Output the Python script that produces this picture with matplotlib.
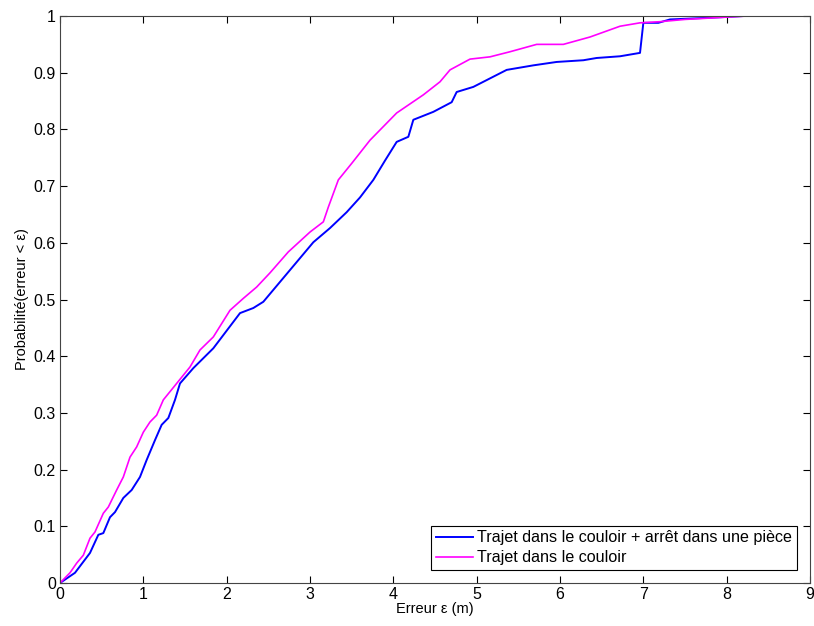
import matplotlib
matplotlib.use('Agg')
import matplotlib.pyplot as plt

# Trajet dans le couloir + arret dans une piece
x_arret = [0, 0.18, 0.36, 0.46, 0.52, 0.6, 0.66, 0.76, 0.86, 0.96, 1.04, 1.14, 1.22, 1.3,
           1.38, 1.44, 1.6, 1.84, 2.0, 2.16, 2.32, 2.44, 2.56, 2.68, 2.88, 3.04, 3.24,
           3.44, 3.6, 3.76, 3.9, 4.04, 4.18, 4.24, 4.48, 4.7, 4.76, 4.96, 5.08, 5.36,
           5.68, 5.96, 6.28, 6.44, 6.72, 6.96, 7.0, 7.18, 7.32, 7.64, 7.94, 8.2, 9.0]
p_arret = [0, 0.018, 0.053, 0.085, 0.088, 0.116, 0.125, 0.15, 0.164, 0.187, 0.217, 0.252,
           0.279, 0.291, 0.323, 0.352, 0.379, 0.414, 0.445, 0.476, 0.485, 0.496, 0.517,
           0.538, 0.573, 0.601, 0.626, 0.654, 0.68, 0.711, 0.745, 0.778, 0.787, 0.817,
           0.831, 0.848, 0.866, 0.875, 0.884, 0.905, 0.913, 0.919, 0.922, 0.926, 0.929,
           0.935, 0.988, 0.988, 0.994, 0.996, 0.998, 1.0, 1.0]

# Trajet dans le couloir
x_couloir = [0, 0.12, 0.2, 0.28, 0.36, 0.42, 0.52, 0.58, 0.68, 0.76, 0.84, 0.92, 1.0, 1.08,
             1.16, 1.24, 1.4, 1.56, 1.68, 1.84, 2.04, 2.2, 2.36, 2.52, 2.74, 3.0, 3.16,
             3.22, 3.34, 3.5, 3.72, 4.04, 4.36, 4.56, 4.68, 4.92, 5.16, 5.4, 5.72, 6.04,
             6.36, 6.72, 6.96, 7.2, 7.5, 8.24, 9.0]
p_couloir = [0, 0.018, 0.035, 0.049, 0.079, 0.09, 0.123, 0.134, 0.164, 0.187, 0.222, 0.24,
             0.266, 0.284, 0.296, 0.323, 0.352, 0.381, 0.411, 0.434, 0.481, 0.502, 0.522,
             0.547, 0.584, 0.619, 0.637, 0.663, 0.711, 0.74, 0.781, 0.829, 0.861, 0.884,
             0.905, 0.924, 0.928, 0.937, 0.95, 0.95, 0.963, 0.982, 0.988, 0.99, 0.994,
             1.0, 1.0]

x_ticks = list(range(0, 10))
y_ticks = [0, 0.1, 0.2, 0.3, 0.4, 0.5, 0.6, 0.7, 0.8, 0.9, 1]
y_labels = ['0', '0.1', '0.2', '0.3', '0.4', '0.5', '0.6', '0.7', '0.8', '0.9', '1']

plt.rcParams['font.family'] = ['Liberation Sans', 'DejaVu Sans']
plt.rcParams['font.size'] = 10.5

fig = plt.figure(figsize=(8.14, 6.26), dpi=100)
ax = fig.add_axes([0.0737, 0.0687, 0.9214, 0.9057])

ax.plot(x_arret, p_arret, color='#0000ff', lw=1.4,
        label='Trajet dans le couloir + arrêt dans une pièce')
ax.plot(x_couloir, p_couloir, color='#ff00ff', lw=1.2,
        label='Trajet dans le couloir')

ax.set_xlim(0, 9)
ax.set_ylim(0, 1)
ax.set_xticks(x_ticks)
ax.set_yticks(y_ticks)
ax.set_yticklabels(y_labels)
ax.tick_params(direction='in', top=True, right=True, length=5, width=0.8, pad=3,
               labelsize=11.5)
for s in ax.spines.values():
    s.set_color('#444444')
    s.set_linewidth(0.8)

ax.set_xlabel('Erreur ε (m)', labelpad=0)
ax.set_ylabel('Probabilité(erreur < ε)', labelpad=3)

leg = ax.legend(loc='lower right', fancybox=False, edgecolor='black', framealpha=1,
                fontsize=11.6, handlelength=2.3, handletextpad=0.3, borderpad=0.3,
                labelspacing=0.3, borderaxespad=0.8)
leg.get_frame().set_linewidth(0.8)

fig.savefig('out.png', dpi=100, facecolor='white')
